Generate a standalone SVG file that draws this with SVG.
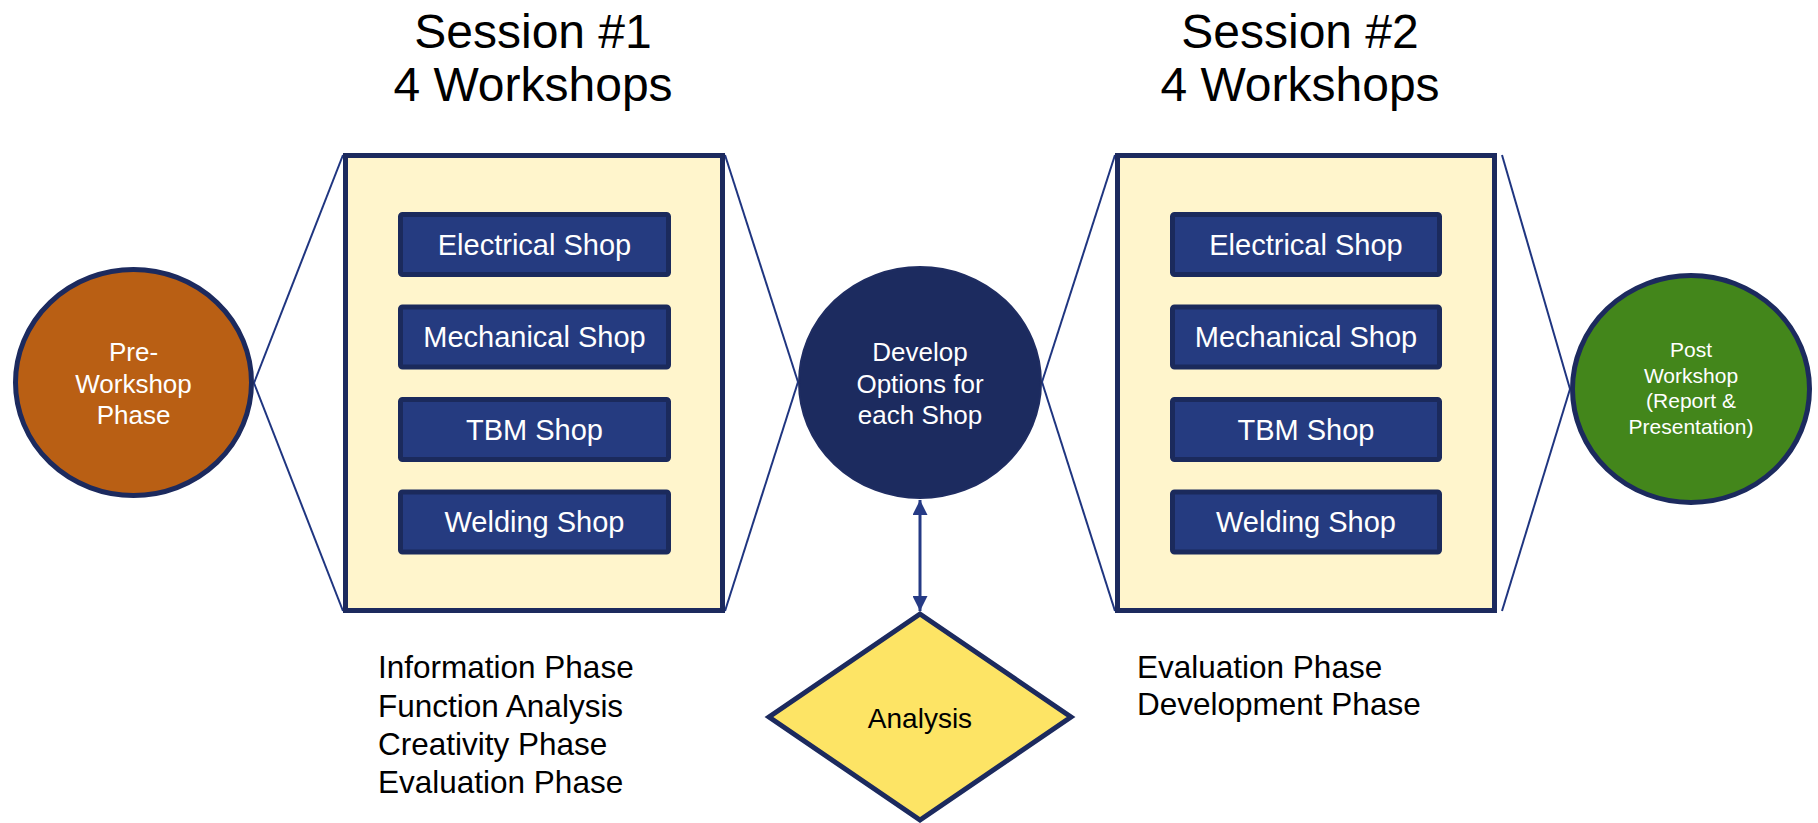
<svg xmlns="http://www.w3.org/2000/svg" width="1818" height="823" viewBox="0 0 1818 823">
<defs>
<style>
text{font-family:"Liberation Sans",Arial,sans-serif;}
.title{font-size:48px;fill:#000;text-anchor:middle;}
.big{fill:#fff5cc;stroke:#1c2a5e;stroke-width:5;}
.shop{fill:#253b80;stroke:#1b2a5c;stroke-width:5;}
.shopt{font-size:29px;fill:#fff;text-anchor:middle;}
.ct{font-size:26px;fill:#fff;text-anchor:middle;}
.pt{font-size:21px;fill:#fff;text-anchor:middle;}
.phase{font-size:31.5px;fill:#000;}
.fan{stroke:#1f3580;stroke-width:2;fill:none;}
</style>
<marker id="ah" viewBox="0 0 10 10" refX="10" refY="5" markerWidth="5" markerHeight="5" orient="auto-start-reverse" markerUnits="strokeWidth">
<path d="M0,0 L10,5 L0,10 Z" fill="#253a85"/>
</marker>
</defs>
<rect width="1818" height="823" fill="#fff"/>

<g id="titles">
<text class="title" x="533" y="48">Session #1</text>
<text class="title" x="533" y="101">4 Workshops</text>
<text class="title" x="1300" y="48">Session #2</text>
<text class="title" x="1300" y="101">4 Workshops</text>
</g>

<g id="connectors">
<line class="fan" x1="254" y1="383" x2="343" y2="155"/>
<line class="fan" x1="254" y1="383" x2="343" y2="611"/>
<line class="fan" x1="725" y1="155" x2="798" y2="382"/>
<line class="fan" x1="725" y1="611" x2="798" y2="382"/>
<line class="fan" x1="1042" y1="382" x2="1115" y2="155"/>
<line class="fan" x1="1042" y1="382" x2="1115" y2="611"/>
<line class="fan" x1="1502" y1="155" x2="1570" y2="389"/>
<line class="fan" x1="1502" y1="611" x2="1570" y2="389"/>
<line x1="920" y1="500" x2="920" y2="611" stroke="#253a85" stroke-width="3" marker-start="url(#ah)" marker-end="url(#ah)"/>
</g>

<g id="pre-workshop">
<ellipse cx="133.5" cy="382.5" rx="118" ry="113" fill="#b95f14" stroke="#1c2a5e" stroke-width="5"/>
<text class="ct" x="133.5" y="361">Pre-</text>
<text class="ct" x="133.5" y="393">Workshop</text>
<text class="ct" x="133.5" y="424">Phase</text>
</g>

<g id="session1">
<rect class="big" x="345.5" y="155.5" width="377" height="455"/>
<g id="s1-electrical"><rect class="shop" x="400.5" y="214.5" width="268" height="60" rx="2"/><text class="shopt" x="534.5" y="254.5">Electrical Shop</text></g>
<g id="s1-mechanical"><rect class="shop" x="400.5" y="307" width="268" height="60" rx="2"/><text class="shopt" x="534.5" y="347">Mechanical Shop</text></g>
<g id="s1-tbm"><rect class="shop" x="400.5" y="399.5" width="268" height="60" rx="2"/><text class="shopt" x="534.5" y="439.5">TBM Shop</text></g>
<g id="s1-welding"><rect class="shop" x="400.5" y="492" width="268" height="60" rx="2"/><text class="shopt" x="534.5" y="532">Welding Shop</text></g>
</g>

<g id="develop">
<ellipse cx="920" cy="382.5" rx="121" ry="115.5" fill="#1c2b5f" stroke="#1f2d62" stroke-width="2"/>
<text class="ct" x="920" y="361">Develop</text>
<text class="ct" x="920" y="393">Options for</text>
<text class="ct" x="920" y="424">each Shop</text>
</g>

<g id="analysis">
<polygon points="920,614 1071,717 920,820 769,717" fill="#fde465" stroke="#1c2a5e" stroke-width="5" stroke-linejoin="miter"/>
<text x="920" y="728" font-size="28" text-anchor="middle" fill="#000">Analysis</text>
</g>

<g id="session2">
<rect class="big" x="1117.5" y="155.5" width="377" height="455"/>
<g id="s2-electrical"><rect class="shop" x="1172.5" y="214.5" width="267" height="60" rx="2"/><text class="shopt" x="1306" y="254.5">Electrical Shop</text></g>
<g id="s2-mechanical"><rect class="shop" x="1172.5" y="307" width="267" height="60" rx="2"/><text class="shopt" x="1306" y="347">Mechanical Shop</text></g>
<g id="s2-tbm"><rect class="shop" x="1172.5" y="399.5" width="267" height="60" rx="2"/><text class="shopt" x="1306" y="439.5">TBM Shop</text></g>
<g id="s2-welding"><rect class="shop" x="1172.5" y="492" width="267" height="60" rx="2"/><text class="shopt" x="1306" y="532">Welding Shop</text></g>
</g>

<g id="post-workshop">
<ellipse cx="1691" cy="389" rx="118.5" ry="113.5" fill="#43861b" stroke="#1c2a5e" stroke-width="5"/>
<text class="pt" x="1691" y="357">Post</text>
<text class="pt" x="1691" y="383">Workshop</text>
<text class="pt" x="1691" y="408">(Report &amp;</text>
<text class="pt" x="1691" y="434">Presentation)</text>
</g>

<g id="session1-phases">
<text class="phase" x="378" y="678">Information Phase</text>
<text class="phase" x="378" y="717">Function Analysis</text>
<text class="phase" x="378" y="755">Creativity Phase</text>
<text class="phase" x="378" y="793">Evaluation Phase</text>
</g>

<g id="session2-phases">
<text class="phase" x="1137" y="678">Evaluation Phase</text>
<text class="phase" x="1137" y="715">Development Phase</text>
</g>
</svg>
